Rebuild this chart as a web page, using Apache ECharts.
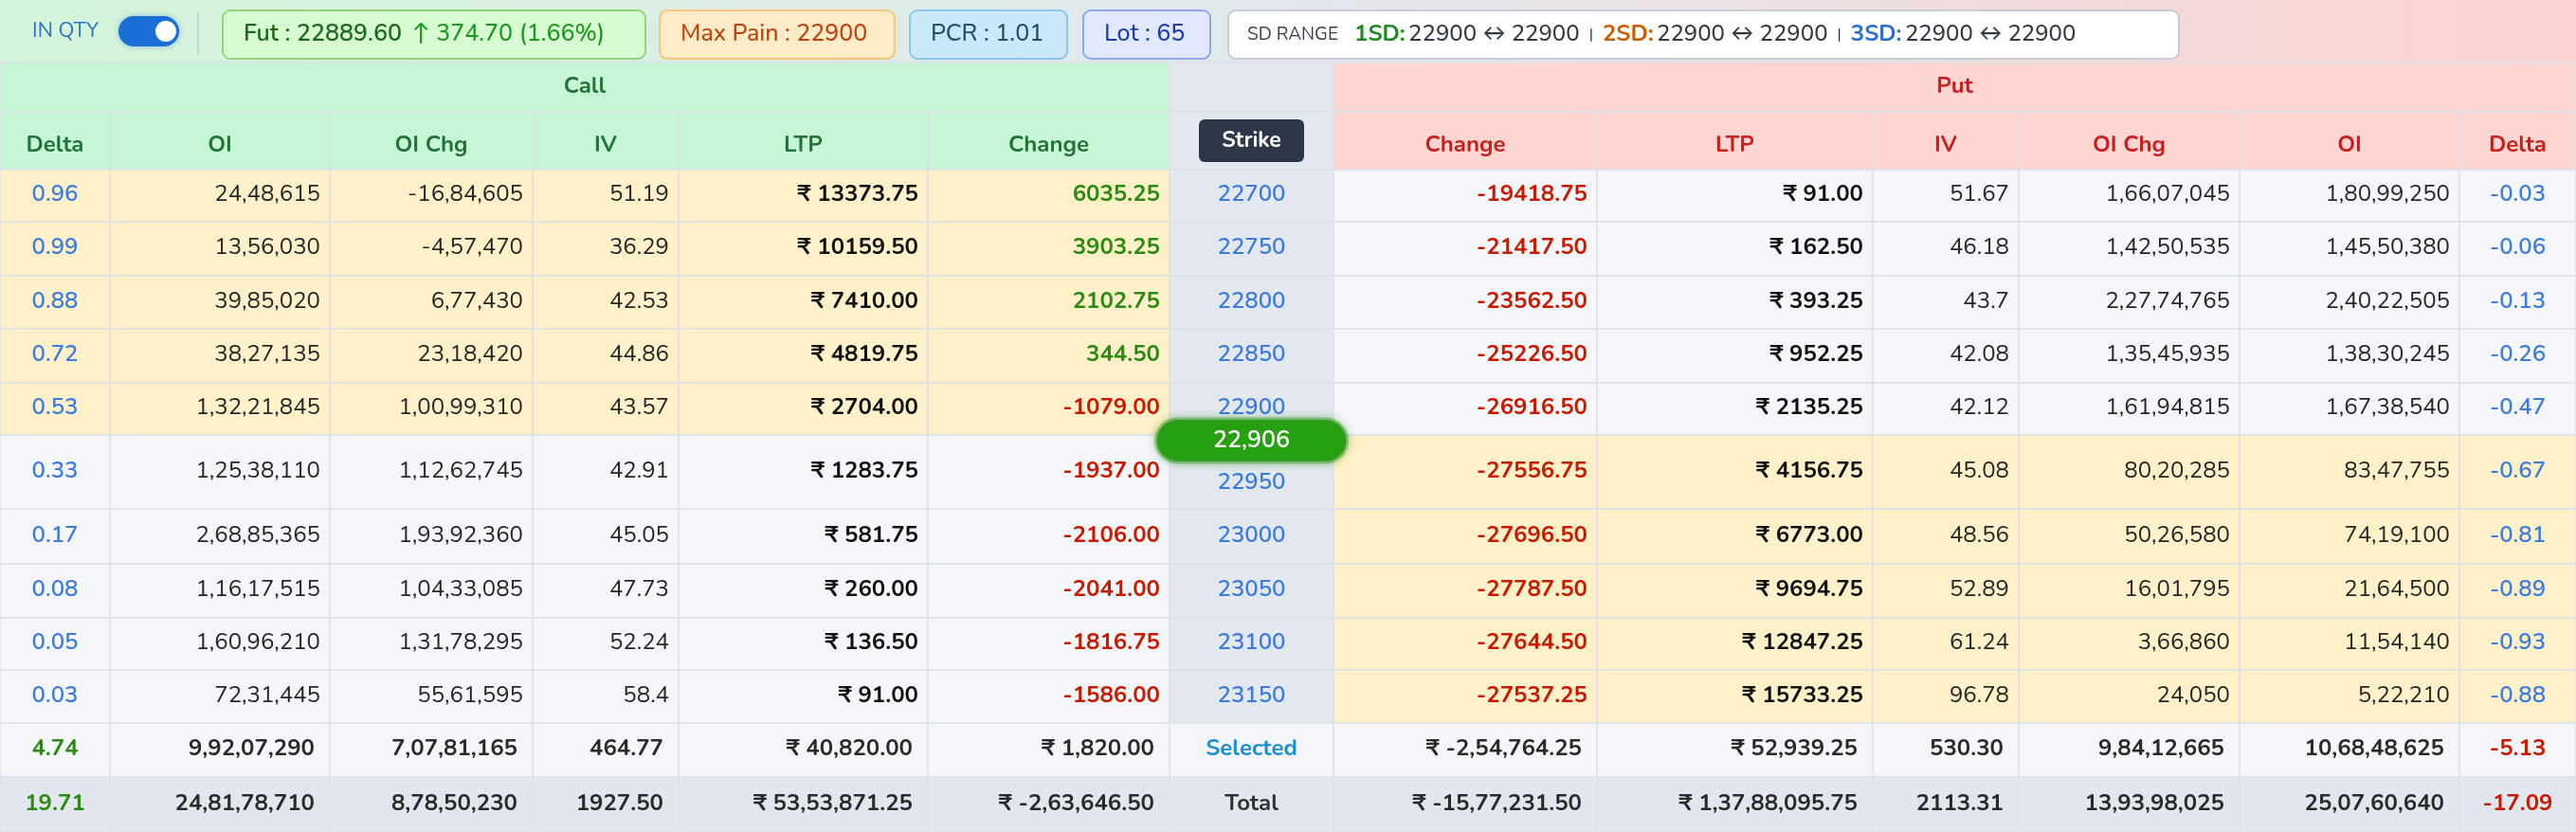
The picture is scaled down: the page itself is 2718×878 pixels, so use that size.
<!DOCTYPE html>
<html><head><meta charset="utf-8">
<script src="https://cdn.jsdelivr.net/npm/echarts@6/dist/echarts.min.js"></script>
<style>html,body{margin:0;padding:0;background:#fff}#c{width:2718px;height:878px}</style>
</head><body><div id="c"></div>
<script>
const strikes=[22700,22750,22800,22850,22900,22950,23000,23050,23100,23150];
const callDelta=[0.96,0.99,0.88,0.72,0.53,0.33,0.17,0.08,0.05,0.03];
const callOI=[2448615,1356030,3985020,3827135,13221845,12538110,26885365,11617515,16096210,7231445];
const callOIChg=[-1684605,-457470,677430,2318420,10099310,11262745,19392360,10433085,13178295,5561595];
const callIV=[51.19,36.29,42.53,44.86,43.57,42.91,45.05,47.73,52.24,58.4];
const callLTP=[13373.75,10159.50,7410.00,4819.75,2704.00,1283.75,581.75,260.00,136.50,91.00];
const callChange=[6035.25,3903.25,2102.75,344.50,-1079.00,-1937.00,-2106.00,-2041.00,-1816.75,-1586.00];
const putChange=[-19418.75,-21417.50,-23562.50,-25226.50,-26916.50,-27556.75,-27696.50,-27787.50,-27644.50,-27537.25];
const putLTP=[91.00,162.50,393.25,952.25,2135.25,4156.75,6773.00,9694.75,12847.25,15733.25];
const putIV=[51.67,46.18,43.7,42.08,42.12,45.08,48.56,52.89,61.24,96.78];
const putOIChg=[16607045,14250535,22774765,13545935,16194815,8020285,5026580,1601795,366860,24050];
const putOI=[18099250,14550380,24022505,13830245,16738540,8347755,7419100,2164500,1154140,522210];
const putDelta=[-0.03,-0.06,-0.13,-0.26,-0.47,-0.67,-0.81,-0.89,-0.93,-0.88];
const headers=['Delta','OI','OI Chg','IV','LTP','Change','Strike','Change','LTP','IV','OI Chg','OI','Delta'];
const selectedRow=['4.74','9,92,07,290','7,07,81,165','464.77','₹ 40,820.00','₹ 1,820.00','Selected','₹ -2,54,764.25','₹ 52,939.25','530.30','9,84,12,665','10,68,48,625','-5.13'];
const totalRow=['19.71','24,81,78,710','8,78,50,230','1927.50','₹ 53,53,871.25','₹ -2,63,646.50','Total','₹ -15,77,231.50','₹ 1,37,88,095.75','2113.31','13,93,98,025','25,07,60,640','-17.09'];
const spot='22,906';
const futLabel='Fut : 22889.60', futChg='↑ 374.70 (1.66%)', maxPain='Max Pain : 22900', pcr='PCR : 1.01', lot='Lot : 65';

const colEdges=[0,116,348,562,716,979,1234,1407,1685,1976,2130,2363,2595,2718];
const rowEdges=[66,118,179,234,291,347,404,459,537,595,652,707,763,820,878];
const F='Nunito, Lato, "Noto Sans", sans-serif';
const FS='24px ';

function inr(n){const neg=n<0;let s=String(Math.abs(Math.round(n)));let l=s.slice(-3),r=s.slice(0,-3);if(r)l=r.replace(/\B(?=(\d{2})+(?!\d))/g,',')+','+l;return (neg?'-':'')+l;}
const GREEN='#2b8a12',RED='#c81a00',BLUE='#3b7be0',YEL='#fef0c9',GRY='#f5f6fa',STR='#e3e7ee';

function cellInfo(c,r){
  if(r===1){
    if(c===6) return {bg:STR,text:'',badge:true};
    return {bg:c<6?'#c6f6d5':'#fed5d1',text:headers[c],color:c<6?'#23723a':'#c81e1e',w:'bold ',align:'center'};
  }
  if(r>=2&&r<=11){
    const i=r-2;
    let bg=c===6?STR:(c<6?(i<=4?YEL:GRY):(i>=5?YEL:GRY));
    const o={bg,color:'#262626',w:'',align:'right'};
    switch(c){
      case 0:o.text=callDelta[i].toFixed(2);o.color=BLUE;o.align='center';o.w='600 ';break;
      case 1:o.text=inr(callOI[i]);break;
      case 2:o.text=inr(callOIChg[i]);break;
      case 3:o.text=String(callIV[i]);break;
      case 4:o.text='₹ '+callLTP[i].toFixed(2);o.w='bold ';o.color='#111';break;
      case 5:o.text=callChange[i].toFixed(2);o.color=callChange[i]<0?RED:GREEN;o.w='bold ';break;
      case 6:o.text=String(strikes[i]);o.color=BLUE;o.align='center';o.low=(i===5);o.w='600 ';break;
      case 7:o.text=putChange[i].toFixed(2);o.color=putChange[i]<0?RED:GREEN;o.w='bold ';break;
      case 8:o.text='₹ '+putLTP[i].toFixed(2);o.w='bold ';o.color='#111';break;
      case 9:o.text=String(putIV[i]);break;
      case 10:o.text=inr(putOIChg[i]);break;
      case 11:o.text=inr(putOI[i]);break;
      case 12:o.text=putDelta[i].toFixed(2);o.color=BLUE;o.align='center';o.w='600 ';break;
    }
    return o;
  }
  const arr=r===12?selectedRow:totalRow;
  const o={bg:r===12?GRY:'#e2e6ee',text:arr[c],color:'#2a2a2a',w:'bold ',align:'right',sum:true};
  if(c===0){o.color=GREEN;o.align='center';}
  if(c===12){o.color=RED;o.align='center';}
  if(c===6){o.align='center';o.color=r===12?'#1a8fd8':'#333';}
  return o;
}

const cells=[];
for(let r=1;r<=13;r++)for(let c=0;c<13;c++)cells.push([c,r]);
const bands=[[0,0,6],[7,0,13],[6,0,7]];

function renderCell(params,api){
  const c=api.value(0),r=api.value(1);
  const p0=api.coord([colEdges[c],rowEdges[r]]),p1=api.coord([colEdges[c+1],rowEdges[r+1]]);
  const w=p1[0]-p0[0],h=p1[1]-p0[1];
  const info=cellInfo(c,r);
  const ch=[{type:'rect',shape:{x:p0[0],y:p0[1],width:w,height:h},style:{fill:info.bg,stroke:'#dde1e8',lineWidth:1.5}}];
  if(info.badge){
    ch.push({type:'rect',shape:{x:p0[0]+31,y:p0[1]+8,width:111,height:45,r:6},style:{fill:'#2d3748'}});
    ch.push({type:'text',style:{text:'Strike',x:p0[0]+w/2,y:p0[1]+31,align:'center',verticalAlign:'middle',fill:'#fff',font:'bold 23px '+F}});
  } else {
    const pad=info.sum?16:10;
    const x=info.align==='center'?p0[0]+w/2:p1[0]-pad;
    const y=info.low?p0[1]+h*0.58+6:p0[1]+h/2+(r===1?6:0);
    ch.push({type:'text',style:{text:info.text,x,y,align:info.align,verticalAlign:'middle',fill:info.color,font:info.w+FS+F}});
  }
  return {type:'group',children:ch};
}
function renderBand(params,api){
  const a=api.value(0),b=api.value(2);
  const p0=api.coord([colEdges[a],rowEdges[0]]),p1=api.coord([colEdges[b],rowEdges[1]]);
  const isCall=a===0,isStr=a===6;
  const fill=isStr?STR:(isCall?'#c6f6d5':'#fed5d1');
  const ch=[{type:'rect',shape:{x:p0[0],y:p0[1],width:p1[0]-p0[0],height:p1[1]-p0[1]},style:{fill,stroke:'#dde1e8',lineWidth:1.5}}];
  if(!isStr)ch.push({type:'text',style:{text:isCall?'Call':'Put',x:(p0[0]+p1[0])/2,y:(p0[1]+p1[1])/2,align:'center',verticalAlign:'middle',fill:isCall?'#23723a':'#c81e1e',font:'bold 24px '+F}});
  return {type:'group',children:ch};
}
function renderSpot(params,api){
  const p=api.coord([(colEdges[6]+colEdges[7])/2,rowEdges[7]+6]);
  return {type:'group',children:[
    {type:'rect',shape:{x:p[0]-100,y:p[1]-22,width:200,height:44,r:22},style:{fill:'#27a012',stroke:'rgba(60,160,40,0.45)',lineWidth:5,shadowBlur:8,shadowColor:'rgba(40,140,20,0.5)'}},
    {type:'text',style:{text:spot,x:p[0],y:p[1]+1,align:'center',verticalAlign:'middle',fill:'#fff',font:'600 25px '+F}}
  ]};
}

function box(x,w,fill,stroke,children){
  return {type:'group',left:x,top:10,children:[{type:'rect',shape:{x:0,y:0,width:w,height:51,r:8},style:{fill,stroke,lineWidth:2}}].concat(children)};
}
function t(text,x,color,font){return {type:'text',style:{text,x,y:26,verticalAlign:'middle',fill:color,font:font||('500 25px '+F)}};}

const chart=echarts.init(document.getElementById('c'),null,{renderer:'canvas'});
chart.setOption({
  animation:false,
  backgroundColor:{type:'linear',x:0,y:0,x2:1,y2:0,colorStops:[{offset:0,color:'#d3f5d9'},{offset:0.5,color:'#e3e8ee'},{offset:1,color:'#fcd3d0'}]},
  grid:{left:0,right:0,top:0,bottom:0},
  xAxis:{type:'value',min:0,max:2718,show:false},
  yAxis:{type:'value',min:0,max:878,inverse:true,show:false},
  graphic:[
    {type:'text',left:34,top:23,style:{text:'IN QTY',fill:'#2b74c9',font:'22px '+F}},
    {type:'rect',left:125,top:17,shape:{width:64,height:32,r:16},style:{fill:'#1a6fd6',shadowBlur:6,shadowColor:'rgba(26,111,214,0.4)'}},
    {type:'circle',left:164,top:22,shape:{r:11},style:{fill:'#fff'}},
    {type:'rect',left:208,top:12,shape:{width:2,height:46},style:{fill:'#c9d3cf'}},
    box(234,446,'#d8fad2','#8fd67f',[t(futLabel,22,'#1d6a1d','600 25px '+F),t(futChg,200,'#1a9a1a','500 25px '+F)]),
    box(695,248,'#feebc8','#f6c77a',[t(maxPain,22,'#c0430c')]),
    box(959,166,'#c9e9fb','#8cc8ef',[t(pcr,22,'#2a4d69')]),
    box(1142,134,'#e2e8fd','#90a8f0',[t(lot,22,'#1e3fa8')]),
    box(1295,1003,'#ffffff','#c8ccd6',[
      t('SD RANGE',20,'#3a3f4a','19px '+F),
      {type:'text',style:{text:'{g|1SD:} {n|22900 ↔ 22900}   {s||}   {o|2SD:} {n|22900 ↔ 22900}   {s||}   {b|3SD:} {n|22900 ↔ 22900}',x:133,y:26,verticalAlign:'middle',
        rich:{g:{fill:'#1f8a1f',font:'bold 24px '+F},o:{fill:'#d05a00',font:'bold 24px '+F},b:{fill:'#2b6cd9',font:'bold 24px '+F},n:{fill:'#333a46',font:'500 24px '+F},s:{fill:'#333',font:'16px '+F}}}}
    ])
  ],
  series:[
    {type:'custom',renderItem:renderBand,data:bands,coordinateSystem:'cartesian2d',silent:true},
    {type:'custom',renderItem:renderCell,data:cells,coordinateSystem:'cartesian2d',silent:true},
    {type:'custom',renderItem:renderSpot,data:[[0,0]],coordinateSystem:'cartesian2d',silent:true,z:5}
  ]
});
</script></body></html>
